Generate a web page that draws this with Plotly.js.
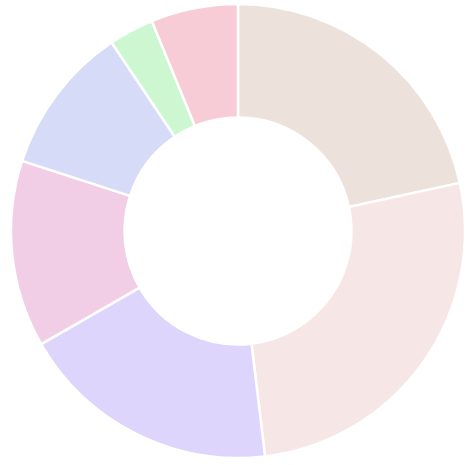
<!DOCTYPE html>
<html>
<head>
<meta charset="utf-8">
<script src="https://cdn.plot.ly/plotly-3.0.1.min.js"></script>
<style>html,body{margin:0;padding:0;background:#fff;}</style>
</head>
<body>
<div id="chart" style="width:471px;height:465px;"></div>
<script>
const labels = ["A", "B", "C", "D", "E", "F", "G"];
const values = [21.6, 26.5, 18.6, 13.3, 10.6, 3.2, 6.2];
const colors = ["#ede1dc", "#f6e7e6", "#ddd5fb", "#f1cde6", "#d6dcf8", "#cdf7d0", "#f8ccd6"];

Plotly.newPlot("chart", [{
  type: "pie",
  labels: labels,
  values: values,
  hole: 0.5,
  sort: false,
  direction: "clockwise",
  rotation: 0,
  textinfo: "none",
  hoverinfo: "none",
  marker: {colors: colors, line: {color: "#ffffff", width: 2.5}}
}], {
  width: 471,
  height: 465,
  showlegend: false,
  margin: {l: 10, r: 5, t: 4, b: 7},
  paper_bgcolor: "#ffffff",
  plot_bgcolor: "#ffffff"
}, {displayModeBar: false, staticPlot: true});
</script>
</body>
</html>
